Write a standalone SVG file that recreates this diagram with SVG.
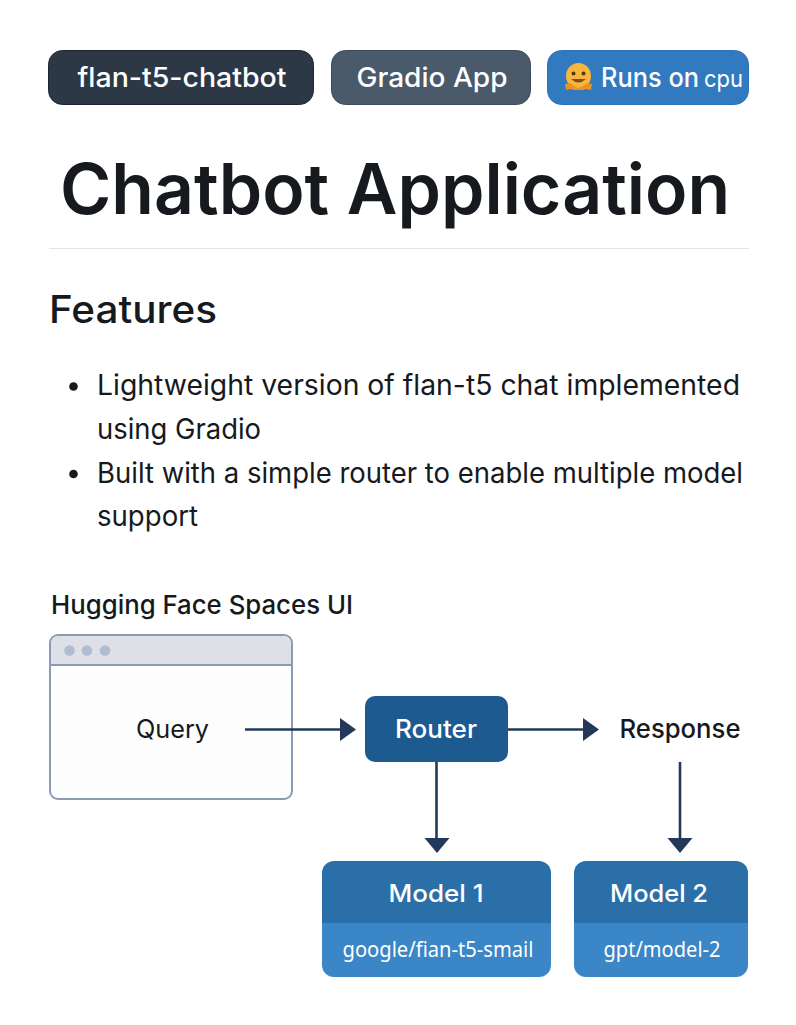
<svg xmlns="http://www.w3.org/2000/svg" width="796" height="1025" viewBox="0 0 796 1025">
<style>
text{font-family:Inter,"Liberation Sans",sans-serif;fill:#16191d}
.w{fill:#fff}
.c{stroke:#22395a;stroke-width:2.6;fill:none}
.h{fill:#22395a}
.m{font-size:24px;font-weight:500;fill:#fff;text-anchor:middle}
.s{font-family:"Noto Sans",sans-serif;font-size:22px;fill:#fff;text-anchor:middle}
.b{font-size:28px}
.p{font-size:27px;font-weight:500;fill:#fff;text-anchor:middle}
</style>
<defs>
<clipPath id="m1"><rect x="322" y="861" width="229" height="116" rx="12"/></clipPath>
<clipPath id="m2"><rect x="574" y="861" width="174" height="116" rx="12"/></clipPath>
</defs>
<rect width="796" height="1025" fill="#fff"/>
<g id="badge-flan"><rect x="48.500" y="50.500" width="265" height="54" rx="14" fill="#2c3845" stroke="#1c2733"/><text class="p" x="182" y="87" textLength="209" lengthAdjust="spacingAndGlyphs">flan-t5-chatbot</text></g>
<g id="badge-gradio"><rect x="331.500" y="50.500" width="199" height="54" rx="14" fill="#4a5a6b" stroke="#3c4c5d"/><text class="p" x="432" y="87" textLength="151" lengthAdjust="spacingAndGlyphs">Gradio App</text></g>
<g id="badge-runs"><rect x="547.500" y="50.500" width="201" height="54" rx="14" fill="#327ac0" stroke="#2c72bb"/>
<g id="hug-icon"><ellipse cx="578.500" cy="76" rx="12.500" ry="13" fill="#f6b73c"/><path d="M566 90l-1-6 5-1 4 3 4.500 2 4.500-2 4-3 5 1-1 6-5-1-3 1h-9l-3-1z" fill="#e8922a"/><circle cx="573.500" cy="73.500" r="2" fill="#5a3510"/><circle cx="583.500" cy="73.500" r="2" fill="#5a3510"/><path d="M571 79q7.500 7 15 0z" fill="#8a4a12"/></g>
<text class="p" x="601" y="87" style="text-anchor:start" textLength="98" lengthAdjust="spacingAndGlyphs">Runs on</text><text class="p" x="704" y="87" style="text-anchor:start;font-weight:400;font-size:24px" textLength="39" lengthAdjust="spacingAndGlyphs">cpu</text></g>
<text id="title" x="395" y="214" font-size="70" font-weight="600" text-anchor="middle" textLength="670" lengthAdjust="spacingAndGlyphs">Chatbot Application</text>
<rect x="49" y="248" width="700" height="1" fill="#e3e5e8"/>
<text id="features" x="49" y="323" font-size="38" font-weight="500" textLength="168" lengthAdjust="spacingAndGlyphs">Features</text>
<g id="list">
<circle cx="73.500" cy="386.500" r="4.300" fill="#16191d"/>
<text class="b" x="97" y="395" textLength="643" lengthAdjust="spacingAndGlyphs">Lightweight version of flan-t5 chat implemented</text>
<text class="b" x="97" y="439" textLength="164" lengthAdjust="spacingAndGlyphs">using Gradio</text>
<circle cx="73.500" cy="474" r="4.300" fill="#16191d"/>
<text class="b" x="97" y="483" textLength="646" lengthAdjust="spacingAndGlyphs">Built with a simple router to enable multiple model</text>
<text class="b" x="97" y="526" textLength="101" lengthAdjust="spacingAndGlyphs">support</text>
</g>
<text id="ui-label" x="51" y="614" font-size="26" font-weight="500" textLength="302" lengthAdjust="spacingAndGlyphs">Hugging Face Spaces UI</text>
<g id="window">
<rect x="50" y="635" width="242" height="164" rx="8" fill="#fdfdfe" stroke="#8a9bb3" stroke-width="2"/>
<path d="M51 664V644a8 8 0 0 1 8-8H283a8 8 0 0 1 8 8V664Z" fill="#dde1e7"/>
<path d="M50 665H292" stroke="#8a9bb3" stroke-width="2"/>
<circle cx="69.500" cy="650.500" r="5.300" fill="#b0bdd0"/><circle cx="87" cy="650.500" r="5.300" fill="#b0bdd0"/><circle cx="105" cy="650.500" r="5.300" fill="#b0bdd0"/>
<text x="172.500" y="738" font-size="25" text-anchor="middle" textLength="73" lengthAdjust="spacingAndGlyphs">Query</text>
</g>
<g id="router"><rect x="365" y="696" width="143" height="66" rx="10" fill="#1d5a90"/><text class="w" x="436" y="738" font-size="25" font-weight="500" text-anchor="middle" textLength="82" lengthAdjust="spacingAndGlyphs">Router</text></g>
<g id="response"><text x="680" y="738" font-size="26" font-weight="500" text-anchor="middle" textLength="121" lengthAdjust="spacingAndGlyphs">Response</text></g>
<g id="model-1"><g clip-path="url(#m1)"><rect x="322" y="861" width="229" height="62" fill="#2b6fa9"/><rect x="322" y="923" width="229" height="54" fill="#3a86c6"/></g><text class="m" x="436" y="902" textLength="95" lengthAdjust="spacingAndGlyphs">Model 1</text><text class="s" x="438" y="957" textLength="191" lengthAdjust="spacingAndGlyphs">google/fian-t5-smail</text></g>
<g id="model-2"><g clip-path="url(#m2)"><rect x="574" y="861" width="174" height="62" fill="#2b6fa9"/><rect x="574" y="923" width="174" height="54" fill="#3a86c6"/></g><text class="m" x="659" y="902" textLength="98" lengthAdjust="spacingAndGlyphs">Model 2</text><text class="s" x="662" y="957" textLength="117" lengthAdjust="spacingAndGlyphs">gpt/model-2</text></g>
<g id="connectors">
<path class="c" d="M245 729.500H342"/><path class="h" d="M340 718L356 729.500L340 741Z"/>
<path class="c" d="M508 729.500H585"/><path class="h" d="M583 718L599 729.500L583 741Z"/>
<path class="c" d="M436.500 762V840"/><path class="h" d="M424.500 838H449.500L437 853Z"/>
<path class="c" d="M680 762V840"/><path class="h" d="M667.500 838H692.500L680 853Z"/>
</g>
</svg>
